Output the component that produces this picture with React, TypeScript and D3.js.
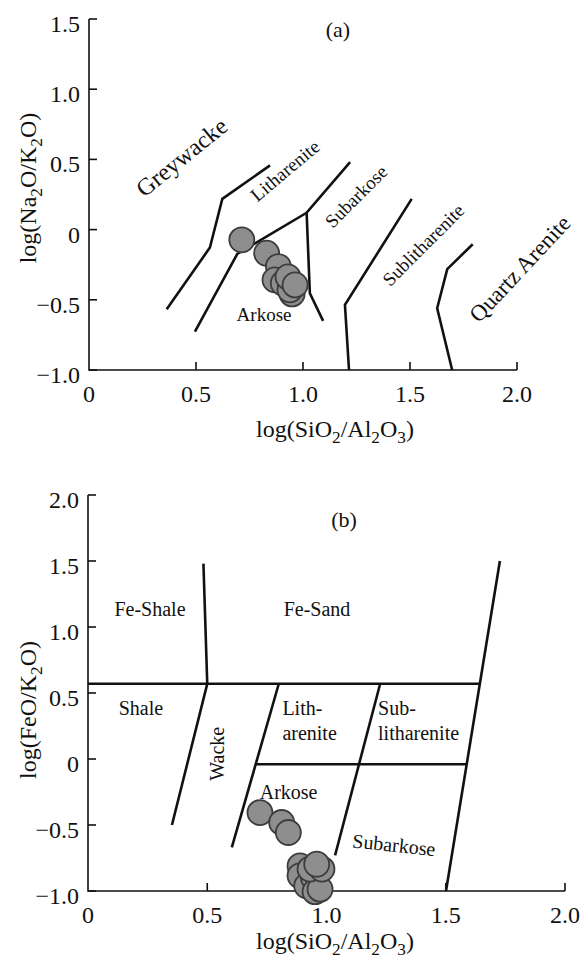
import React from 'react';
import * as d3 from 'd3';

// axis ticks
const xTicks = [0, 0.5, 1, 1.5, 2];
const xTickLabels = ['0', '0.5', '1.0', '1.5', '2.0'];
const yTicksA = [-1, -0.5, 0, 0.5, 1, 1.5];
const yTickLabelsA = ['−1.0', '−0.5', '0', '0.5', '1.0', '1.5'];
const yTicksB = [-1, -0.5, 0, 0.5, 1, 1.5, 2];
const yTickLabelsB = ['−1.0', '−0.5', '0', '0.5', '1.0', '1.5', '2.0'];

// samples, panel (a): log(SiO2/Al2O3) vs log(Na2O/K2O)
const siAlA = [0.714, 0.830, 0.885, 0.869, 0.908, 0.949, 0.939, 0.930, 0.963];
const naK = [-0.073, -0.168, -0.263, -0.358, -0.382, -0.458, -0.429, -0.337, -0.394];

// samples, panel (b): log(SiO2/Al2O3) vs log(FeO/K2O)
const siAlB = [0.721, 0.812, 0.840, 0.889, 0.889, 0.917, 0.945, 0.952, 0.973, 0.931, 0.981, 0.959];
const feK = [-0.406, -0.481, -0.557, -0.81, -0.885, -0.961, -0.897, -1.005, -0.986, -0.834, -0.834, -0.797];

// field boundaries, panel (a)
const bndGreywacke = [[0.846, 0.457], [0.623, 0.219], [0.565, -0.128], [0.363, -0.567]];
const bndLitharenite = [[0.495, -0.727], [0.693, -0.173], [1.017, 0.12]];
const bndSubarkose = [[1.22, 0.48], [1.017, 0.12], [1.032, -0.453], [1.094, -0.65]];
const bndSublitharenite = [[1.508, 0.219], [1.196, -0.536], [1.215, -1.0]];
const bndQuartz = [[1.793, -0.104], [1.674, -0.282], [1.627, -0.56], [1.697, -1.0]];

// field boundaries, panel (b)
const bndFe = [[0, 0.57], [1.643, 0.57]];
const bndShale = [[0.484, 1.48], [0.5, 0.57], [0.352, -0.5]];
const bndWacke = [[0.8, 0.57], [0.603, -0.67]];
const bndMid = [[0.703, -0.04], [1.588, -0.04]];
const bndSublith = [[1.225, 0.57], [1.036, -0.73]];
const bndQuartzB = [[1.727, 1.5], [1.501, -1.0]];

const FONT = "'Liberation Serif', 'Times New Roman', serif";

// "_x" marks a one-character subscript
function Rich({ s, shift = 6 }: { s: string; shift?: number }) {
  const segs: { t: string; sub: boolean }[] = [];
  for (let i = 0; i < s.length; i++) {
    if (s[i] === '_') {
      segs.push({ t: s[i + 1], sub: true });
      i++;
    } else if (segs.length && !segs[segs.length - 1].sub) {
      segs[segs.length - 1].t += s[i];
    } else {
      segs.push({ t: s[i], sub: false });
    }
  }
  let prevSub = false;
  return (
    <>
      {segs.map((g, i) => {
        const dy = g.sub ? (prevSub ? 0 : shift) : (prevSub ? -shift : 0);
        prevSub = g.sub;
        return <tspan key={i} dy={dy} fontSize={g.sub ? '0.72em' : undefined}>{g.t}</tspan>;
      })}
    </>
  );
}

type Lab = { t: string; x: number; y: number; r?: number; fs: number; anchor?: string };

function Panel({ x, y, yTicks, yTickLabels, xs, ys, lines, labels, yTitle, yTitleY, xTitleY, tag, tagX, tagY }: any) {
  const line = d3.line<number[]>().x(d => x(d[0])).y(d => y(d[1]));
  const x0 = x.range()[0], x1 = x.range()[1];
  const y0 = y.range()[0], y1 = y.range()[1];
  return (
    <g fontFamily={FONT} fill="#111">
      {/* axes */}
      <path d={`M${x0},${y1}V${y0}H${x1}`} fill="none" stroke="#111" strokeWidth={1.6} />
      {yTicks.map((t: number, i: number) => (
        <g key={'y' + i}>
          <line x1={x0} x2={x0 + 8} y1={y(t)} y2={y(t)} stroke="#111" strokeWidth={1.6} />
          <text x={x0 - 9} y={y(t) + 5} textAnchor="end" dominantBaseline="central" fontSize={24}>{yTickLabels[i]}</text>
        </g>
      ))}
      {xTicks.map((t, i) => (
        <g key={'x' + i}>
          {i > 0 && <line x1={x(t)} x2={x(t)} y1={y0} y2={y0 - 8} stroke="#111" strokeWidth={1.6} />}
          <text x={x(t)} y={y0 + 24} textAnchor="middle" dominantBaseline="central" fontSize={24}>{xTickLabels[i]}</text>
        </g>
      ))}
      <text x={335} y={xTitleY} textAnchor="middle" fontSize={24}><Rich s="log(SiO_2/Al_2O_3)" /></text>
      <text transform={`translate(36,${yTitleY}) rotate(-90)`} textAnchor="middle" fontSize={24}><Rich s={yTitle} /></text>
      <text x={tagX} y={tagY} textAnchor="middle" dominantBaseline="central" fontSize={22}>{tag}</text>
      {/* boundaries */}
      {lines.map((l: number[][], i: number) => (
        <path key={'l' + i} d={line(l) as string} fill="none" stroke="#111" strokeWidth={2.6} strokeLinejoin="miter" />
      ))}
      {/* labels */}
      {labels.map((l: Lab, i: number) => (
        <text key={'t' + i} transform={`translate(${x(l.x)},${y(l.y)}) rotate(${l.r || 0})`} textAnchor={l.anchor || 'middle'}
          dominantBaseline="central" fontSize={l.fs}>{l.t}</text>
      ))}
      {/* samples */}
      {xs.map((v: number, i: number) => (
        <circle key={'c' + i} cx={x(v)} cy={y(ys[i])} r={12.5} fill="#8e8e8e" stroke="#3c3c3c" strokeWidth={1.8} />
      ))}
    </g>
  );
}

export default function App() {
  const xA = d3.scaleLinear().domain([0, 2]).range([89, 517]);
  const yA = d3.scaleLinear().domain([-1, 1.5]).range([370, 19]);
  const xB = d3.scaleLinear().domain([0, 2]).range([88, 565]);
  const yB = d3.scaleLinear().domain([-1, 2]).range([891, 495]);

  const labelsA: Lab[] = [
    { t: 'Greywacke', x: 0.433, y: 0.515, r: -39, fs: 24 },
    { t: 'Litharenite', x: 0.916, y: 0.42, r: -40, fs: 19 },
    { t: 'Subarkose', x: 1.248, y: 0.236, r: -45, fs: 19 },
    { t: 'Sublitharenite', x: 1.562, y: -0.109, r: -45, fs: 19 },
    { t: 'Quartz Arenite', x: 2.014, y: -0.28, r: -47, fs: 23 },
    { t: 'Arkose', x: 0.818, y: -0.607, fs: 19 },
  ];
  const labelsB: Lab[] = [
    { t: 'Fe-Shale', x: 0.26, y: 1.14, fs: 20 },
    { t: 'Fe-Sand', x: 0.96, y: 1.14, fs: 20 },
    { t: 'Shale', x: 0.222, y: 0.39, fs: 20 },
    { t: 'Wacke', x: 0.541, y: 0.04, r: -90, fs: 20 },
    { t: 'Lith-', x: 0.815, y: 0.39, fs: 20, anchor: 'start' },
    { t: 'arenite', x: 0.815, y: 0.195, fs: 20, anchor: 'start' },
    { t: 'Sub-', x: 1.216, y: 0.39, fs: 20, anchor: 'start' },
    { t: 'litharenite', x: 1.216, y: 0.195, fs: 20, anchor: 'start' },
    { t: 'Arkose', x: 0.72, y: -0.25, fs: 20, anchor: 'start' },
    { t: 'Subarkose', x: 1.283, y: -0.65, r: 6, fs: 20 },
  ];

  return (
    <svg width={581} height={958} style={{ position: 'absolute', left: 0, top: 0, background: '#fff' }}>
      <rect width={581} height={958} fill="#fff" />
      <Panel x={xA} y={yA} yTicks={yTicksA} yTickLabels={yTickLabelsA} xs={siAlA} ys={naK}
        lines={[bndGreywacke, bndLitharenite, bndSubarkose, bndSublitharenite, bndQuartz]}
        labels={labelsA} yTitle="log(Na_2O/K_2O)" yTitleY={188} xTitleY={437} tag="(a)" tagX={338} tagY={29} />
      <Panel x={xB} y={yB} yTicks={yTicksB} yTickLabels={yTickLabelsB} xs={siAlB} ys={feK}
        lines={[bndFe, bndShale, bndWacke, bndMid, bndSublith, bndQuartzB]}
        labels={labelsB} yTitle="log(FeO/K_2O)" yTitleY={710} xTitleY={949} tag="(b)" tagX={344} tagY={519} />
    </svg>
  );
}
